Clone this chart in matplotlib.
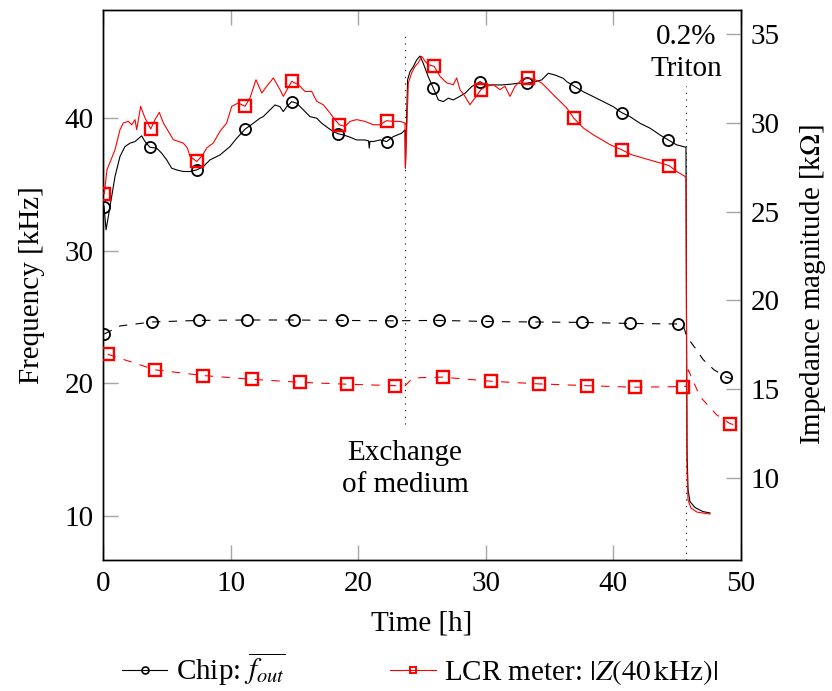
import numpy as np
import matplotlib
matplotlib.use("Agg")
import matplotlib.pyplot as plt
from matplotlib.lines import Line2D

plt.rcParams['font.family'] = ['Liberation Serif', 'DejaVu Serif']
plt.rcParams['mathtext.fontset'] = 'stix'
plt.rcParams['lines.scale_dashes'] = False

# ---- Chip output frequency (solid, left axis) ----
chip_t = [0.00, 0.08, 0.24, 0.55, 0.94, 1.33, 1.72, 2.12, 2.51, 3.03, 3.29, 3.68, 4.21, 4.60,
          4.99, 5.38, 5.78, 6.29, 6.82, 7.34, 7.86, 8.39, 9.17, 9.95, 10.48, 11.13, 11.78,
          12.30, 12.56, 13.09, 13.48, 13.87, 14.13, 14.40, 14.79, 15.18, 15.70, 16.22, 16.75,
          17.14, 17.66, 18.05, 18.44, 18.83, 19.36, 19.88, 20.53, 20.81, 20.87, 20.92, 21.18,
          21.71, 22.23, 22.75, 23.41, 23.67, 23.70, 23.87, 24.06, 24.32, 24.58, 24.84, 25.10,
          25.49, 25.89, 26.28, 26.67, 27.06, 27.45, 27.84, 28.37, 28.89, 29.55, 29.94, 30.46,
          31.25, 31.90, 32.55, 33.20, 33.86, 34.38, 34.90, 35.42, 36.07, 36.34, 36.99, 37.64,
          38.42, 39.21, 39.99, 40.65, 41.30, 42.08, 42.87, 43.65, 44.30, 44.96, 45.69, 45.73,
          45.77, 45.85, 46.00, 46.39, 47.02, 47.57]
chip_f = [33.5, 33.34, 31.58, 33.34, 35.60, 37.11, 37.86, 38.12, 38.24, 38.67, 38.24, 37.81, 37.74,
          37.36, 36.86, 36.23, 36.10, 35.98, 35.98, 36.10, 36.35, 36.86, 37.23, 37.86, 38.49,
          39.17, 39.62, 40.00, 40.12, 40.63, 41.00, 40.87, 40.50, 40.87, 41.25, 41.13, 40.63,
          40.12, 40.00, 39.62, 39.25, 38.99, 38.82, 38.74, 38.57, 38.36, 38.36, 38.29, 37.74,
          38.25, 38.24, 38.36, 38.24, 38.61, 38.87, 39.12, 36.23, 42.89, 43.51, 43.89, 44.39,
          44.69, 44.14, 43.13, 42.26, 41.38, 41.25, 41.51, 41.38, 41.58, 41.88, 42.38, 42.76,
          42.51, 42.51, 42.51, 42.56, 42.64, 42.64, 42.76, 42.89, 43.39, 43.26, 43.01, 42.76,
          42.38, 42.00, 41.63, 41.25, 40.87, 40.42, 40.12, 39.62, 39.25, 38.74, 38.36, 37.99,
          37.81, 26.31, 15.00, 11.99, 11.09, 10.64, 10.33, 10.23]
chip_mark_t = [0.08, 3.68, 7.34, 11.13, 14.79, 18.44, 22.23, 25.89, 29.55, 33.20, 36.99, 40.65, 44.30]

# ---- LCR meter impedance (solid, right axis) ----
lcr_t = [0.00, 0.10, 0.31, 0.63, 0.94, 1.33, 1.59, 1.98, 2.25, 2.51, 2.64, 2.95, 3.29, 3.74, 4.08,
         4.41, 4.73, 5.12, 5.51, 5.90, 6.29, 6.61, 6.82, 7.34, 7.74, 8.13, 8.64, 9.17, 9.69,
         10.09, 10.60, 11.13, 11.52, 11.99, 12.44, 12.83, 13.35, 13.87, 14.13, 14.79, 15.31,
         15.83, 16.36, 16.75, 17.26, 17.79, 18.18, 18.52, 18.97, 19.36, 19.88, 20.53, 21.18,
         21.71, 22.23, 22.75, 23.28, 23.67, 23.70, 23.93, 24.19, 24.45, 24.71, 24.98, 25.24,
         25.49, 25.96, 26.41, 26.94, 27.45, 27.72, 27.98, 28.37, 28.76, 29.15, 29.62, 30.07,
         30.59, 31.11, 31.50, 31.90, 32.29, 32.81, 33.33, 33.86, 34.38, 34.90, 35.42, 35.95,
         36.34, 36.89, 37.64, 38.42, 39.08, 39.73, 40.65, 41.43, 42.34, 43.26, 43.91, 44.38,
         44.96, 45.69, 45.73, 45.77, 45.85, 46.08, 46.55, 47.57]
lcr_z = [26.07, 26.00, 27.36, 27.93, 28.49, 29.62, 30.00, 30.09, 29.90, 30.19, 29.62, 30.94, 30.28,
         29.66, 30.19, 30.60, 30.00, 29.53, 29.06, 28.96, 28.87, 28.59, 28.12, 27.83, 28.12,
         28.59, 28.87, 29.53, 30.00, 30.94, 31.13, 30.94, 31.41, 32.44, 31.69, 32.07, 32.54,
         31.88, 31.50, 32.35, 32.16, 31.78, 31.78, 31.22, 31.03, 30.56, 30.19, 29.90, 29.81,
         30.09, 30.19, 30.09, 29.90, 29.90, 30.13, 30.09, 30.09, 30.00, 27.48, 32.26, 32.82,
         33.19, 33.39, 33.76, 33.48, 33.29, 33.19, 32.63, 32.26, 32.16, 32.54, 31.88, 31.50,
         31.03, 31.41, 31.88, 32.07, 32.16, 31.88, 32.07, 31.50, 32.07, 32.44, 32.54, 32.44,
         32.26, 31.88, 31.50, 31.13, 30.85, 30.28, 29.72, 29.34, 29.06, 28.78, 28.49, 28.21,
         28.02, 27.83, 27.70, 27.59, 27.27, 26.95, 17.21, 10.43, 8.74, 8.29, 8.06, 7.95]
lcr_mark_t = [0.10, 3.74, 7.34, 11.13, 14.79, 18.52, 22.23, 25.96, 29.62, 33.33, 36.89, 40.65, 44.38]

# ---- Reference cell (dashed) ----
ref_chip_t = [0.10, 1.33, 3.82, 7.52, 11.26, 14.97, 18.75, 22.55, 26.33, 30.07, 33.80, 37.54,
              41.28, 45.04, 45.45, 45.74, 46.39, 47.04, 47.88, 48.82, 50.00]
ref_chip_f = [23.72, 24.33, 24.63, 24.75, 24.78, 24.78, 24.75, 24.72, 24.75, 24.67, 24.63, 24.60,
              24.52, 24.48, 24.46, 23.54, 22.69, 21.79, 21.03, 20.48, 20.15]
ref_chip_mark_t = [0.10, 3.82, 7.52, 11.26, 14.97, 18.75, 22.55, 26.33, 30.07, 33.80, 37.54,
                   41.28, 45.04, 48.82]

ref_lcr_t = [0.37, 4.10, 7.86, 11.65, 15.44, 19.15, 22.88, 23.67, 24.29, 26.62, 30.38, 34.17,
             37.91, 41.67, 45.43, 45.69, 45.87, 46.79, 48.10, 49.14, 50.00]
ref_lcr_z = [16.96, 16.08, 15.76, 15.55, 15.38, 15.27, 15.19, 15.18, 15.63, 15.67, 15.44, 15.29,
             15.19, 15.10, 15.14, 15.15, 16.08, 14.57, 13.54, 13.05, 12.88]
ref_lcr_mark_t = [0.37, 4.10, 7.86, 11.65, 15.44, 19.15, 22.88, 26.62, 30.38, 34.17, 37.91,
                  41.67, 45.43, 49.14]

# ---- Events ----
t_exchange = 23.67
t_triton = 45.69

x_ticks = [0, 10, 20, 30, 40, 50]
f_ticks = [10, 20, 30, 40]
z_ticks = [10, 15, 20, 25, 30, 35]


def mark_idx(t, tm):
    t = np.asarray(t)
    return [int(np.argmin(np.abs(t - v))) for v in tm]


FS = 21
TICKC = '#a6a6a6'
LW = 0.8

fig = plt.figure(figsize=(8.32, 6.91), dpi=100)
ax = fig.add_axes([0.1238, 0.1896, 0.7668, 0.7959])
ax2 = ax.twinx()

ax.set_xlim(0, 50)
ax.set_ylim(6.68, 48.16)
ax2.set_ylim(5.36, 36.37)

# event markers
ax.plot([t_exchange, t_exchange], [16.9, 46.4], color='k', lw=0.8, dashes=(0.8, 4.0), zorder=1)
ax.plot([t_triton, t_triton], [6.68, 42.4], color='k', lw=0.8, dashes=(0.8, 4.0), zorder=1)

# black series on the frequency axis
ax.plot(chip_t, chip_f, color='k', lw=LW, marker='o', ms=8, mfc='none', mew=1.3,
        markevery=mark_idx(chip_t, chip_mark_t), zorder=3)
ax.plot(ref_chip_t, ref_chip_f, color='k', lw=LW, dashes=(6, 6), marker='o', ms=8,
        mfc='none', mew=1.3, markevery=mark_idx(ref_chip_t, ref_chip_mark_t), zorder=3)

# red series on the impedance axis
ax2.plot(lcr_t, lcr_z, color='#ff0000', lw=LW, marker='s', ms=8, mfc='none', mew=1.7,
         markevery=mark_idx(lcr_t, lcr_mark_t), zorder=3)
ax2.plot(ref_lcr_t, ref_lcr_z, color='#ff0000', lw=LW, dashes=(6, 6), marker='s', ms=8,
         mfc='none', mew=1.7, markevery=mark_idx(ref_lcr_t, ref_lcr_mark_t), zorder=3)

ax.set_xticks(x_ticks)
ax.set_yticks(f_ticks)
ax2.set_yticks(z_ticks)

ax.tick_params(axis='x', direction='in', length=11, width=1, color=TICKC, top=True,
               labelsize=FS, pad=8)
ax.tick_params(axis='y', direction='in', length=11, width=1, color=TICKC, right=False,
               labelsize=FS, pad=7)
ax2.tick_params(axis='y', direction='in', length=11, width=1, color=TICKC, labelsize=FS, pad=7)
for a in (ax, ax2):
    for s in a.spines.values():
        s.set_linewidth(1.0)
        s.set_color('k')

ax.set_xlabel('Time [h]', fontsize=FS, labelpad=10)
ax.set_ylabel('Frequency [kHz]', fontsize=FS, labelpad=14)
ax2.set_ylabel('Impedance magnitude [k$\\Omega$]', fontsize=FS, labelpad=13)

ax.text(t_exchange, 13.55, 'Exchange\nof medium', ha='center', va='center', fontsize=FS,
        linespacing=1.3)
ax.text(t_triton, 44.95, '0.2%\nTriton', ha='center', va='center', fontsize=FS,
        linespacing=1.3)

handles = [
    Line2D([], [], color='k', lw=LW, marker='o', ms=5, mfc='none', mew=1.2),
    Line2D([], [], color='#ff0000', lw=LW, marker='s', ms=5, mfc='none', mew=1.4),
]
labels = [r'Chip: $\overline{f_{out}}$', r'LCR meter: $|Z(40\,\mathrm{kHz})|$']
fig.legend(handles, labels, loc='center', bbox_to_anchor=(0.505, 0.031), ncol=2,
           frameon=False, fontsize=FS, handlelength=1.55, handletextpad=0.3,
           columnspacing=3.6)

fig.savefig('out.png', dpi=100)
